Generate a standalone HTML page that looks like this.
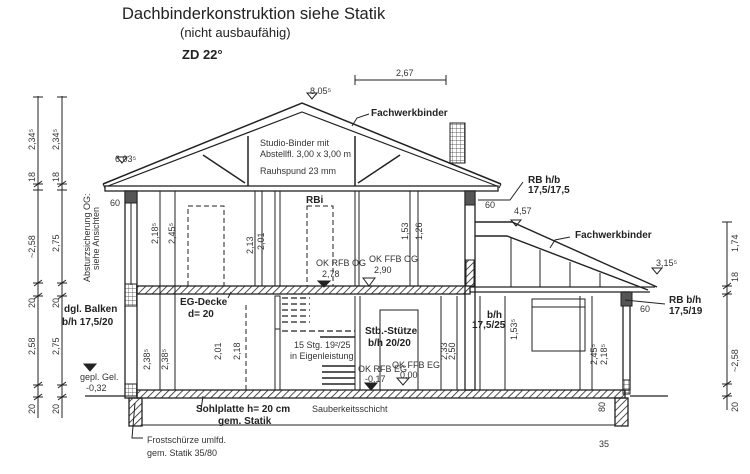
<!DOCTYPE html>
<html><head><meta charset="utf-8"><style>
html,body{margin:0;padding:0;background:#fff;}
svg{display:block;font-family:"Liberation Sans",sans-serif;}
.d{font-size:9px;fill:#333}
.b{font-size:10px;font-weight:bold;fill:#222}
</style></head><body>
<svg width="750" height="474" viewBox="0 0 750 474" xmlns="http://www.w3.org/2000/svg">
<defs>
<pattern id="h" width="5" height="5" patternUnits="userSpaceOnUse" patternTransform="rotate(45)">
<line x1="0" y1="0" x2="0" y2="5" stroke="#222" stroke-width="1.6"/></pattern>
<pattern id="g" width="4" height="4" patternUnits="userSpaceOnUse">
<path d="M0 0H4M0 0V4" stroke="#333" stroke-width="0.7" fill="none"/></pattern>
</defs>
<text x="122" y="19" font-size="16.5" fill="#222">Dachbinderkonstruktion siehe Statik</text>
<text x="180" y="37" font-size="13" fill="#222">(nicht ausbaufähig)</text>
<text x="182" y="59" font-size="13" font-weight="bold" fill="#222">ZD 22°</text>
<g stroke="#222" fill="none" stroke-width="1">
<line x1="355" y1="80" x2="446" y2="80"/><line x1="355" y1="75" x2="355" y2="85"/><line x1="446" y1="75" x2="446" y2="85"/>
<path d="M103 184 L302 103 L501 184" stroke-width="1.5"/>
<path d="M108 186 L302 112 L497 186" stroke-width="1.2"/>
<path d="M103 184 L105 188 M501 184 L499 188"/>
<rect x="105" y="186" width="393" height="5" stroke-width="1.3"/>
<line x1="248" y1="136" x2="248" y2="186" stroke-width="1.5"/><line x1="355" y1="136" x2="355" y2="186" stroke-width="1.5"/>
<line x1="203" y1="155" x2="245" y2="183" stroke-width="1.5"/><line x1="400" y1="155" x2="358" y2="183" stroke-width="1.5"/>
<rect x="450" y="123" width="15" height="40" fill="url(#g)"/>
<rect x="125" y="191" width="12" height="207" stroke-width="1.3"/>
<line x1="131" y1="200" x2="131" y2="285"/>
<rect x="125" y="191" width="12" height="12" fill="#555"/>
<rect x="125" y="284" width="12" height="22" fill="url(#g)"/>
<rect x="125" y="384" width="12" height="12" fill="url(#g)"/>
<rect x="137" y="286" width="333" height="8" fill="url(#h)" stroke-width="1.3"/>
<line x1="470" y1="287" x2="655" y2="287" stroke-width="1.3"/><line x1="470" y1="292" x2="650" y2="292" stroke-width="1.3"/>
<rect x="137" y="390" width="488" height="8" fill="url(#h)" stroke-width="1.3"/>
<line x1="85" y1="396" x2="125" y2="396" stroke-width="1.2"/>
<line x1="630" y1="396" x2="668" y2="396" stroke-width="1.3"/>
<rect x="129" y="398" width="13" height="28" fill="url(#h)" stroke-width="1.3"/>
<rect x="615" y="398" width="13" height="28" fill="url(#h)" stroke-width="1.3"/>
<line x1="142" y1="425" x2="615" y2="425"/>
<rect x="465" y="191" width="10" height="199" stroke-width="1.3"/>
<rect x="465" y="191" width="10" height="14" fill="#555"/>
<rect x="466" y="260" width="8" height="26" fill="url(#h)"/>
<rect x="275" y="191" width="5" height="95"/><rect x="355" y="191" width="4" height="95"/>
<rect x="275" y="296" width="5" height="33"/>
<line x1="275" y1="296" x2="275" y2="390"/><line x1="280" y1="296" x2="280" y2="390"/>
<line x1="355" y1="296" x2="355" y2="390"/><line x1="360" y1="296" x2="360" y2="390"/>
<line x1="480" y1="296" x2="480" y2="390"/>
<g stroke-dasharray="5,3"><rect x="188" y="206" width="36" height="80"/><rect x="307" y="206" width="26" height="80"/>
<line x1="246" y1="305" x2="246" y2="390"/></g>
<rect x="380" y="310" width="38" height="80"/>
<g stroke-width="1.3" stroke-dasharray="6,3"><line x1="282" y1="298" x2="310" y2="298"/><line x1="282" y1="304" x2="310" y2="304"/><line x1="282" y1="310" x2="310" y2="310"/><line x1="282" y1="316" x2="310" y2="316"/><line x1="282" y1="322" x2="310" y2="322"/><line x1="282" y1="331" x2="355" y2="331"/></g>
<g stroke-width="1.5"><line x1="320" y1="337" x2="355" y2="337"/><line x1="322" y1="366" x2="355" y2="366"/><line x1="322" y1="372" x2="355" y2="372"/><line x1="322" y1="378" x2="355" y2="378"/><line x1="322" y1="384" x2="355" y2="384"/></g>
<path d="M475 222 L512 222 L657 287" stroke-width="1.4"/>
<path d="M475 236 L507 236 L648 290" stroke-width="1.4"/>
<line x1="511" y1="238" x2="511" y2="287"/><line x1="540" y1="250" x2="540" y2="287"/><line x1="570" y1="262" x2="570" y2="287"/><line x1="600" y1="273" x2="600" y2="287"/>
<rect x="623" y="292" width="7" height="98" stroke-width="1.3"/>
<rect x="621" y="292" width="11" height="14" fill="#555"/>
<rect x="623" y="380" width="7" height="14" fill="url(#g)"/>
<rect x="532" y="299" width="53" height="52"/>
<line x1="532" y1="307" x2="585" y2="307"/>
<line x1="38" y1="96" x2="38" y2="418"/><line x1="62" y1="96" x2="62" y2="418"/>
<line x1="727" y1="222" x2="727" y2="410"/>
<g stroke-width="1"><path d="M33 97h10M57 97h10M33 184h10M57 184h10M33 190h10M57 190h10M33 283h10M57 283h10M33 296h10M57 296h10M33 385h10M57 385h10M33 397h10M57 397h10M722 222h10M722 286h10M722 294h10M722 384h10M722 396h10"/>
<path d="M34 187l8-6M58 187l8-6M34 286l8-6M58 286l8-6M34 299l8-6M58 299l8-6M34 388l8-6M58 388l8-6M34 400l8-6M58 400l8-6M723 289l8-6M723 297l8-6M723 387l8-6M723 399l8-6"/></g>
<path d="M160 191V390M175 191V390M255 191V286M262 191V286M410 191V286M418 191V286M457 296V390M441 296V390M505 296V390M580 296V390M592 296V390"/>
<path d="M84 364 L96 364 L90 371 Z" fill="#222"/>
<path d="M318 281 L330 281 L324 287 Z" fill="#222"/><path d="M363 278 L375 278 L369 286 Z"/>
<path d="M365 383 L377 383 L371 390 Z" fill="#222"/><path d="M397 378 L409 378 L403 385 Z"/>
<path d="M117 157 L127 157 L122 163 Z"/><path d="M307 93 L317 93 L312 99 Z"/><path d="M511 220 L521 220 L516 226 Z"/><path d="M652 268 L662 268 L657 274 Z"/>
<path d="M369 114 L357 118 L352 126"/><path d="M523 182 L510 200 L478 200"/><path d="M570 237 L555 240 L550 248"/><path d="M625 300 L645 302 L665 304"/>
<path d="M135 403 L132 438 L143 438"/><path d="M203 396 L201 410"/><path d="M231 292 L228 298"/>
</g>
<text x="371" y="116" class="b">Fachwerkbinder</text>
<text x="528" y="183" class="b">RB h/b</text><text x="528" y="193" class="b">17,5/17,5</text>
<text x="575" y="238" class="b">Fachwerkbinder</text>
<text x="669" y="303" class="b">RB  b/h</text><text x="669" y="314" class="b">17,5/19</text>
<text x="487" y="318" class="b">b/h</text><text x="472" y="328" class="b">17,5/25</text>
<text x="64" y="312" class="b">dgl. Balken</text><text x="62" y="325" class="b">b/h 17,5/20</text>
<text x="180" y="305" class="b">EG-Decke</text><text x="188" y="317" class="b">d= 20</text>
<text x="365" y="334" class="b">Stb.-Stütze</text><text x="368" y="346" class="b">b/h 20/20</text>
<text x="196" y="412" class="b">Sohlplatte h= 20 cm</text><text x="218" y="424" class="b">gem. Statik</text>
<text x="312" y="412" class="d" font-size="10">Sauberkeitsschicht</text>
<text x="147" y="443" class="d" font-size="10">Frostschürze umlfd.</text><text x="147" y="456" class="d" font-size="10">gem. Statik 35/80</text>
<text x="260" y="146" class="d" font-size="9.5">Studio-Binder mit</text><text x="260" y="157" class="d" font-size="9.5">Abstellfl. 3,00 x 3,00 m</text>
<text x="260" y="174" class="d" font-size="9.5">Rauhspund 23 mm</text>
<text x="306" y="203" class="b">RBi</text>
<text x="294" y="348" class="d">15 Stg. 19²/25</text><text x="290" y="359" class="d">in Eigenleistung</text>
<text x="316" y="266" class="d" font-size="7.5">OK RFB OG</text><text x="322" y="277" class="d">2,78</text>
<text x="369" y="262" class="d" font-size="7.5">OK FFB OG</text><text x="374" y="273" class="d">2,90</text>
<text x="358" y="372" class="d" font-size="7.5">OK RFB EG</text><text x="365" y="382" class="d">-0,17</text>
<text x="392" y="368" class="d" font-size="7.5">OK FFB EG</text><text x="400" y="378" class="d">0,00</text>
<text x="80" y="380" class="d" font-size="7.5">gepl. Gel.</text><text x="86" y="391" class="d">-0,32</text>
<text x="396" y="76" class="d">2,67</text>
<text x="310" y="94" class="d">8,05⁵</text><text x="115" y="162" class="d">6,03⁵</text><text x="514" y="214" class="d">4,57</text><text x="656" y="266" class="d">3,15⁵</text>
<text x="110" y="206" class="d">60</text><text x="485" y="208" class="d">60</text><text x="640" y="312" class="d">60</text>
<text x="599" y="447" class="d">35</text><text x="605" y="412" class="d" transform="rotate(-90 605 412)">80</text>
<g class="d" font-size="10">
<text transform="translate(35,150) rotate(-90)">2,34⁵</text><text transform="translate(59,150) rotate(-90)">2,34⁵</text>
<text transform="translate(35,182) rotate(-90)">18</text><text transform="translate(59,182) rotate(-90)">18</text>
<text transform="translate(35,258) rotate(-90)">~2,58</text><text transform="translate(59,252) rotate(-90)">2,75</text>
<text transform="translate(35,308) rotate(-90)">20</text><text transform="translate(59,308) rotate(-90)">20</text>
<text transform="translate(35,355) rotate(-90)">2,58</text><text transform="translate(59,355) rotate(-90)">2,75</text>
<text transform="translate(35,414) rotate(-90)">20</text><text transform="translate(59,414) rotate(-90)">20</text>
<text transform="translate(738,252) rotate(-90)">1,74</text><text transform="translate(738,372) rotate(-90)">~2,58</text>
<text transform="translate(738,412) rotate(-90)">20</text><text transform="translate(738,282) rotate(-90)">18</text>
</g>
<g class="d" font-size="8">
<text transform="translate(90,282) rotate(-90)">Absturzsicherung OG:</text><text transform="translate(99,270) rotate(-90)">siehe Ansichten</text>
</g>
<g class="d">
<text transform="translate(158,244) rotate(-90)">2,18⁵</text><text transform="translate(175,244) rotate(-90)">2,45⁵</text>
<text transform="translate(253,254) rotate(-90)">2,13</text><text transform="translate(264,250) rotate(-90)">2,01</text>
<text transform="translate(408,240) rotate(-90)">1,53</text><text transform="translate(422,240) rotate(-90)">1,26</text>
<text transform="translate(150,370) rotate(-90)">2,38⁵</text><text transform="translate(168,370) rotate(-90)">2,38⁵</text>
<text transform="translate(221,360) rotate(-90)">2,01</text><text transform="translate(240,360) rotate(-90)">2,18</text>
<text transform="translate(455,360) rotate(-90)">2,50</text><text transform="translate(447,360) rotate(-90)">2,33</text>
<text transform="translate(517,340) rotate(-90)">1,53⁵</text><text transform="translate(597,365) rotate(-90)">2,45⁵</text><text transform="translate(607,365) rotate(-90)">2,18⁵</text>
</g>
</svg>
</body></html>
